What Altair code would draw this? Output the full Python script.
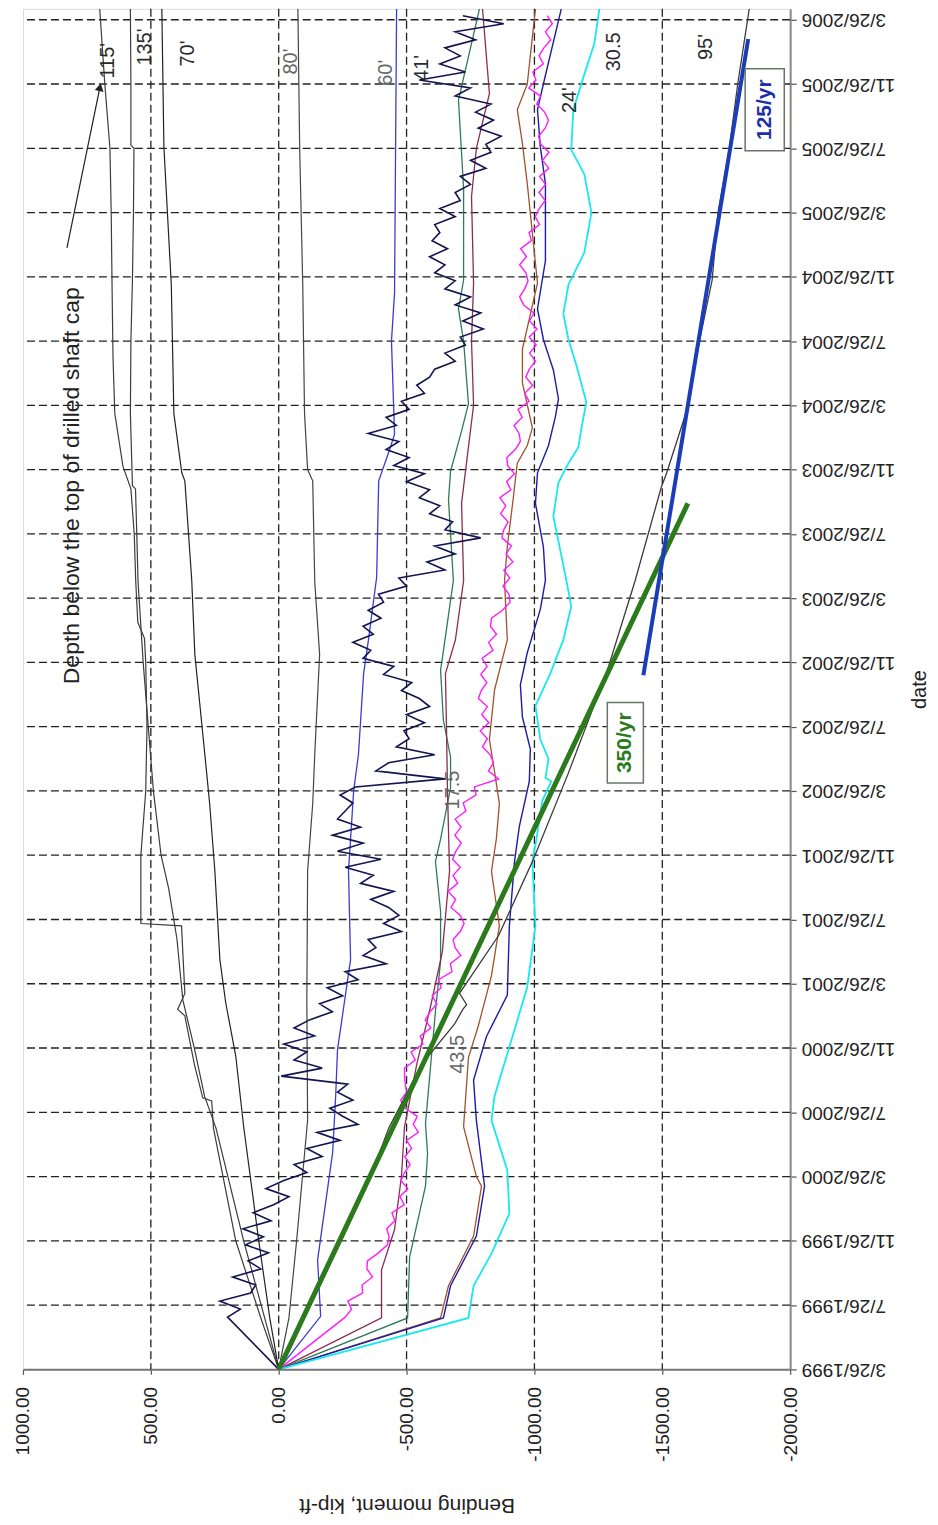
import altair as alt
import pandas as pd

FONT = "Liberation Sans, Arial, sans-serif"

# ---- time is in months after 3/26/1999; values are bending moment (kip-ft)
P115_M = [0, 3.2, 8, 15, 16.7, 16.9, 19, 22, 22.4, 23.4, 27.6, 27.75, 32, 36, 40, 44, 45.5, 46.5, 49, 52, 54.8, 56.2, 59.5, 63, 67.8, 72, 76, 80, 84.68]
P115_V = [0, 70, 168, 255, 262, 297, 330, 367, 395, 367, 380, 539, 539, 520, 515, 520, 525, 551, 559, 565, 578, 609, 641, 648, 652, 655, 660, 680, 700]

Q135_M = [0, 3.2, 8, 15, 17, 20, 23, 26.8, 29.9, 32, 36, 40, 44, 49, 52, 54.8, 55, 59.5, 64, 67.8, 72, 76, 76.2, 80, 84.68]
Q135_V = [0, 55, 137, 245, 290, 330, 375, 398, 430, 460, 490, 510, 530, 550, 555, 560, 572, 580, 578, 572, 568, 566, 578, 578, 580]

S70_M = [0, 3.2, 8, 15.1, 19.5, 22.8, 25.5, 31.1, 35.2, 38.3, 44.5, 49.1, 55.3, 55.8, 59.5, 67.5, 76.1, 84.68]
S70_V = [0, 35, 78, 137, 168, 207, 230, 250, 270, 289, 328, 340, 367, 379, 410, 420, 449, 457]

S80_M = [0, 3.2, 8, 15.5, 23, 31, 35.2, 38.3, 44.5, 49, 55.3, 56, 59.5, 67.5, 76, 84.68]
S80_V = [0, -40, -70, -113, -110, -113, -133, -141, -160, -141, -133, -113, -101, -94, -82, -75]

S60_M = [0, 3.3, 6.8, 13.5, 17.1, 19.9, 25.5, 31, 36, 38.3, 43.3, 45.4, 49.3, 55.3, 57.2, 58.2, 64, 67, 84.68]
S60_V = [0, -164, -152, -211, -223, -230, -281, -273, -293, -312, -332, -351, -383, -391, -433, -453, -441, -453, -461]

TEAL_M = [0, 3.2, 7, 11.4, 13.4, 15.3, 22.3, 25.4, 28.5, 31.6, 33, 36.2, 38.1, 40.4, 43.5, 45.6, 49.1, 54.1, 55.9, 58.4, 60.1, 64, 66, 67.8, 73.5, 79, 84.68]
TEAL_V = [0, -504, -512, -574, -582, -574, -613, -633, -633, -613, -633, -672, -672, -644, -633, -652, -683, -664, -672, -715, -742, -723, -703, -723, -723, -703, -785]

MAROON_M = [0, 3.2, 6.2, 8.7, 12, 15.1, 19, 22.6, 26, 31, 36, 40, 43.3, 45.4, 49.1, 53.9, 60, 64, 67.6, 73, 76, 79.4, 84.68]
MAROON_V = [0, -402, -402, -453, -480, -492, -540, -594, -640, -668, -660, -656, -652, -691, -723, -715, -762, -754, -762, -754, -773, -824, -797]

BROWN_M = [0, 3.2, 5.2, 8.3, 11.4, 12, 15.1, 19.4, 21.4, 24.5, 27.6, 31, 33, 35.2, 37.2, 39.2, 42.3, 45.4, 49.1, 51.2, 53.8, 56.4, 57.5, 58.6, 61.4, 63.5, 67.6, 70.7, 73.8, 76.3, 78.4, 80, 84.68]
BROWN_V = [0, -633, -664, -762, -793, -773, -723, -742, -781, -832, -863, -832, -851, -863, -844, -824, -844, -894, -883, -894, -914, -933, -972, -992, -953, -953, -1012, -992, -972, -953, -933, -972, -1004]

NAVYB_M = [0, 3.2, 5.2, 8.3, 11.4, 15.5, 18, 20.7, 23.3, 27.6, 31.6, 33.8, 36.6, 38.6, 40.6, 42.6, 44.6, 47.3, 49.1, 51.2, 53.9, 55.8, 57.5, 59.3, 60.4, 62.2, 64.1, 66, 69, 73.8, 76.1, 78.4, 80, 84.68]
NAVYB_V = [0, -644, -672, -773, -805, -773, -762, -812, -894, -902, -922, -941, -980, -984, -953, -945, -972, -1023, -1043, -1035, -1004, -1012, -1055, -1082, -1094, -1074, -1035, -1012, -1043, -1043, -1023, -1012, -1035, -1105]

CYAN_M = [0, 3.2, 5.2, 7.2, 9.7, 12.4, 15.5, 17, 20.7, 23.8, 27.6, 31.6, 33, 35.4, 36.6, 36.8, 38, 39.2, 41.3, 43.3, 45.4, 47.5, 49.1, 53.1, 55.2, 56.4, 57.4, 58.5, 60.2, 62.5, 64.1, 65.7, 67.5, 69.5, 72, 74.4, 75.9, 78.4, 80.6, 82.5, 84.68]
CYAN_V = [0, -742, -762, -832, -902, -894, -832, -844, -914, -972, -1004, -992, -1008, -1031, -1066, -1043, -1055, -1023, -1004, -1062, -1113, -1144, -1125, -1074, -1094, -1133, -1172, -1183, -1203, -1164, -1133, -1113, -1133, -1195, -1223, -1195, -1144, -1152, -1195, -1234, -1254]

S95_M = [0, 4, 8, 12, 15, 19, 21.5, 22.4, 22.7, 23.4, 27, 31.6, 37, 43.5, 49.1, 54.9, 55.7, 59.6, 63.9, 67.8, 72, 76, 80, 84.68]
S95_V = [0, -125, -245, -360, -430, -560, -688, -720, -735, -707, -860, -992, -1130, -1285, -1394, -1496, -1515, -1594, -1644, -1695, -1718, -1762, -1795, -1840]

# noisy series: first reading at 3.25 months, then every half month
NOISY_START = 3.25
NOISY_STEP = 0.5
NAVY_V = [200, 150, 230, 110, 90, 180, 70, 120, 40, 130,
          60, 140, 30, 100, 20, -40, 50, -20, -110, -60,
          -170, -110, -240, -150, -310, -250, -200, -290, -230, -270,
          -10, -170, -60, -110, -20, -140, -60, -120, -210, -160,
          -250, -190, -310, -260, -420, -330, -380, -350, -480, -410,
          -470, -430, -360, -450, -320, -370, -260, -400, -230, -330,
          -210, -320, -230, -260, -290, -240, -300, -650, -380, -430,
          -610, -460, -510, -490, -570, -500, -590, -550, -480, -520,
          -410, -450, -330, -360, -290, -370, -330, -400, -350, -410,
          -390, -500, -470, -650, -580, -690, -610, -790, -650, -680,
          -590, -630, -550, -590, -500, -570, -450, -510, -420, -470,
          -350, -460, -420, -510, -480, -570, -540, -590, -610, -690,
          -650, -730, -710, -800, -720, -790, -690, -750, -650, -690,
          -610, -650, -590, -660, -600, -630, -610, -690, -630, -710,
          -690, -750, -710, -810, -750, -830, -810, -870, -780, -840,
          -770, -830, -690, -750, -550, -730, -630, -710, -650, -770,
          -690, -880, -720]
MAGENTA_V = [-260, -285, -270, -328, -326, -367, -345, -347, -390, -425,
             -432, -422, -454, -443, -491, -474, -505, -478, -492, -514,
             -493, -520, -500, -546, -526, -542, -495, -477, -500, -495,
             -492, -492, -534, -518, -564, -554, -595, -573, -592, -619,
             -600, -635, -625, -678, -671, -712, -690, -682, -710, -725,
             -710, -674, -692, -662, -700, -682, -710, -680, -693, -714,
             -689, -713, -690, -732, -721, -772, -765, -860, -820, -840,
             -827, -797, -816, -788, -822, -794, -816, -781, -792, -814,
             -790, -815, -795, -838, -821, -852, -828, -832, -875, -905,
             -900, -877, -904, -880, -916, -889, -910, -873, -880, -897,
             -868, -888, -865, -908, -891, -922, -895, -892, -925, -945,
             -940, -920, -952, -936, -979, -962, -993, -966, -980, -1004,
             -981, -1007, -980, -1010, -981, -998, -958, -942, -962, -975,
             -967, -942, -969, -946, -988, -979, -1020, -1003, -1019, -1042,
             -1018, -1043, -1020, -1056, -1032, -1057, -1025, -1016, -1042, -1055,
             -1040, -1009, -1024, -978, -1006, -994, -1035, -1018, -1037, -1064,
             -1043, -1070, -1050]

TREND350_M = [0, 53.9]
TREND350_V = [0, -1600]
TREND125_M = [43.2, 82.8]
TREND125_V = [-1426, -1836]

GRID_V = [-1500, -1000, -500, 0, 500]
GRID_M = list(range(4, 85, 4))
VALUE_TICKS = [-2000, -1500, -1000, -500, 0, 500, 1000]
DATE_TICKS = list(range(0, 85, 4))

LABELS_DARK = [("115'", 668, 81.45), ("135'", 523, 82.3), ("70'", 355, 81.9),
               ("30.5", -1312, 82.0), ("95'", -1672, 82.3), ("41'", -559, 81.0), ("24'", -1141, 79.0)]
LABELS_GRAY = [("80'", -47, 81.4), ("60'", -418, 80.7), ("17.5", -680, 36.06), ("43.5", -703, 19.6)]
NOTE_TEXT = "Depth below the top of drilled shaft cap"
NOTE_POS = (809, 55.0)
ARROW_FROM = (828, 69.8)
ARROW_TO = (699, 79.8)
BOX350 = dict(v=-1285, v2=-1426, m=36.5, m2=41.5)
BOX125 = dict(v=-1824, v2=-1977, m=75.85, m2=80.95)
BOX_TEXT = [("350/yr", -1355, 39.0), ("125/yr", -1902, 78.4)]

# ---------------------------------------------------------------
XS = alt.Scale(domain=[-2000, 1000], reverse=True, nice=False, zero=False)
YS = alt.Scale(domain=[0, 84.68], nice=False, zero=False)

XAX = alt.Axis(values=VALUE_TICKS, grid=False, orient="bottom",
               labelAngle=270, labelAlign="right", labelBaseline="middle",
               labelFontSize=19, labelFont=FONT, labelColor="#222", labelPadding=12,
               labelFlush=False, labelOverlap=False, labelBound=False,
               labelExpr="replace(format(datum.value, '.2f'), '\u2212', '-')",
               tickSize=5, tickColor="#555", tickWidth=1.2,
               domainColor="#777", domainWidth=2,
               title="Bending moment, kip-ft", titleAngle=180, titleFontSize=21,
               titleFont=FONT, titleFontWeight="normal", titleColor="#222",
               titleX=384, titleY=135, titleAlign="center", titleBaseline="middle")

YAX = alt.Axis(values=DATE_TICKS, grid=False, orient="right",
               labelAngle=180, labelAlign="right", labelBaseline="middle",
               labelFontSize=19, labelFont=FONT, labelColor="#222", labelPadding=5,
               labelFlush=False, labelOverlap=False, labelBound=False,
               labelExpr="(((2 + datum.value) % 12) + 1) + '/26/' + (1999 + floor((2 + datum.value) / 12))",
               tickSize=6, tickColor="#555", tickWidth=1.2,
               domainColor="#888", domainWidth=2,
               title="date", titleAngle=270, titleFontSize=20, titleFont=FONT,
               titleFontWeight="normal", titleColor="#222",
               titleX=129, titleY=681, titleAlign="center", titleBaseline="middle")

XE = alt.X("v:Q", scale=XS, axis=XAX)
YE = alt.Y("m:Q", scale=YS, axis=YAX)


def line_layer(ms, vs, color, width):
    df = pd.DataFrame({"m": ms, "v": vs})
    return alt.Chart(df).mark_line(color=color, strokeWidth=width, clip=True).encode(
        x=XE, y=YE, order=alt.Order("m:Q"))


noisy_m = [0] + [NOISY_START + NOISY_STEP * i for i in range(len(NAVY_V))]
mag_m = [0] + [NOISY_START + NOISY_STEP * i for i in range(len(MAGENTA_V))]

grid_v = alt.Chart(pd.DataFrame({"v": GRID_V})).mark_rule(
    color="#222", strokeWidth=1.3, strokeDash=[8, 4]).encode(x=XE)
grid_m = alt.Chart(pd.DataFrame({"m": GRID_M})).mark_rule(
    color="#222", strokeWidth=1.3, strokeDash=[8, 4]).encode(y=YE)

layers = [
    grid_v, grid_m,
    line_layer(P115_M, P115_V, "#3c3c3c", 1.2),
    line_layer(Q135_M, Q135_V, "#3c3c3c", 1.2),
    line_layer(S70_M, S70_V, "#222222", 1.2),
    line_layer(S80_M, S80_V, "#444444", 1.2),
    line_layer(S60_M, S60_V, "#3b3bd6", 1.3),
    line_layer(TEAL_M, TEAL_V, "#2f7a5c", 1.3),
    line_layer(MAROON_M, MAROON_V, "#8a2d55", 1.3),
    line_layer(BROWN_M, BROWN_V, "#a0522d", 1.3),
    line_layer(NAVYB_M, NAVYB_V, "#1c1ca6", 1.4),
    line_layer(CYAN_M, CYAN_V, "#18e8f0", 1.8),
    line_layer(mag_m, [0] + MAGENTA_V, "#ff1cff", 1.4),
    line_layer(noisy_m, [0] + NAVY_V, "#141450", 1.6),
    line_layer(S95_M, S95_V, "#3c3c3c", 1.3),
    line_layer(TREND350_M, TREND350_V, "#2b7a1c", 5),
    line_layer(TREND125_M, TREND125_V, "#1b3db8", 4),
]

# arrow of the note
arrow_df = pd.DataFrame({"v": [ARROW_FROM[0]], "m": [ARROW_FROM[1]],
                         "v2": [ARROW_TO[0]], "m2": [ARROW_TO[1]]})
layers.append(alt.Chart(arrow_df).mark_rule(color="#222", strokeWidth=1.2).encode(
    x=XE, x2="v2:Q", y=YE, y2="m2:Q"))
head_df = pd.DataFrame({"v": [ARROW_TO[0]], "m": [ARROW_TO[1]]})
layers.append(alt.Chart(head_df).mark_point(
    shape="triangle-up", filled=True, size=80, angle=11.6, color="#222", opacity=1).encode(
    x=XE, y=YE))

# rate boxes
for box in [BOX350, BOX125]:
    bdf = pd.DataFrame([box])
    layers.append(alt.Chart(bdf).mark_rect(fill="white", stroke="#667766", strokeWidth=1.5).encode(
        x=XE, x2="v2:Q", y=YE, y2="m2:Q"))
for (txt, tv, tm), col in zip(BOX_TEXT, ["#2b7a1c", "#1b2fa8"]):
    tdf = pd.DataFrame({"text": [txt], "v": [tv], "m": [tm]})
    layers.append(alt.Chart(tdf).mark_text(
        angle=270, font=FONT, fontSize=21, fontWeight="bold", color=col,
        align="center", baseline="middle").encode(x=XE, y=YE, text="text:N"))

for lab, col in [(LABELS_DARK, "#2a2a2a"), (LABELS_GRAY, "#666666")]:
    ldf = pd.DataFrame(lab, columns=["text", "v", "m"])
    layers.append(alt.Chart(ldf).mark_text(
        angle=270, font=FONT, fontSize=20, color=col, align="center", baseline="middle").encode(
        x=XE, y=YE, text="text:N"))

note_df = pd.DataFrame({"text": [NOTE_TEXT], "v": [NOTE_POS[0]], "m": [NOTE_POS[1]]})
layers.append(alt.Chart(note_df).mark_text(
    angle=270, font=FONT, fontSize=23, color="#222", align="center", baseline="middle").encode(
    x=XE, y=YE, text="text:N"))

chart = alt.layer(*layers).properties(
    width=768, height=1362,
    autosize=alt.AutoSizeParams(type="none"),
    padding={"left": 15, "top": 0, "right": 140, "bottom": 150},
).configure_view(stroke="#999999", strokeWidth=1.5).configure(background="white")

chart.save("out.html", embed_options={"renderer": "svg", "actions": False})
